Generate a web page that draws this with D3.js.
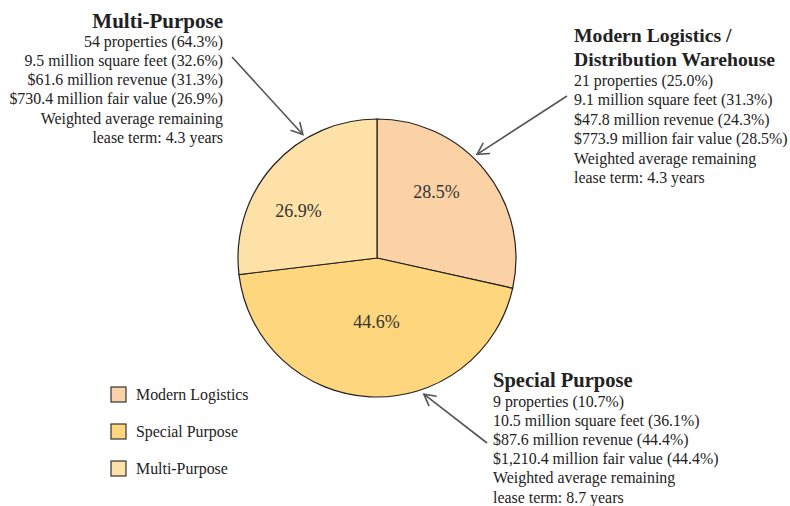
<!DOCTYPE html>
<html><head><meta charset="utf-8">
<script src="https://cdn.jsdelivr.net/npm/d3@7"></script>
<style>body{margin:0;background:#fff}text{font-family:"Liberation Serif","Times New Roman",serif;}</style>
</head><body><svg id="c" width="790" height="506"></svg>
<script>
const categories = ["Modern Logistics", "Special Purpose", "Multi-Purpose"];
const fairValueShare = [28.5, 44.6, 26.9];
const colors = ["#FAD2A6", "#FED67E", "#FEE1A6"];
const titles = [["Modern Logistics /", "Distribution Warehouse"], ["Special Purpose"], ["Multi-Purpose"]];
const details = [
  ["21 properties (25.0%)", "9.1 million square feet (31.3%)", "$47.8 million revenue (24.3%)", "$773.9 million fair value (28.5%)", "Weighted average remaining", "lease term: 4.3 years"],
  ["9 properties (10.7%)", "10.5 million square feet (36.1%)", "$87.6 million revenue (44.4%)", "$1,210.4 million fair value (44.4%)", "Weighted average remaining", "lease term: 8.7 years"],
  ["54 properties (64.3%)", "9.5 million square feet (32.6%)", "$61.6 million revenue (31.3%)", "$730.4 million fair value (26.9%)", "Weighted average remaining", "lease term: 4.3 years"]
];

const svg = d3.select("#c");
const cx = 377, cy = 258, R = 139;
const g = svg.append("g").attr("transform", `translate(${cx},${cy})`);
const pie = d3.pie().sort(null).value(d => d)(fairValueShare);
const arc = d3.arc().innerRadius(0).outerRadius(R);
g.selectAll("path").data(pie).join("path")
  .attr("d", arc).attr("fill", (d, i) => colors[i])
  .attr("stroke", "#222").attr("stroke-width", 1.2);

// percentage labels
const labelArc = d3.arc().innerRadius(0).outerRadius(R * 1.3);
const nudge = [[-11, -10], [4, -26], [-11, 13]];
g.selectAll("text.pct").data(pie).join("text").attr("class", "pct")
  .attr("x", (d, i) => labelArc.centroid(d)[0] + nudge[i][0])
  .attr("y", (d, i) => labelArc.centroid(d)[1] + nudge[i][1])
  .attr("text-anchor", "middle").attr("dominant-baseline", "central")
  .attr("font-size", 18).attr("fill", "#333")
  .text(d => d.data.toFixed(1) + "%");

// annotation blocks
const blocks = [
  {x: 574, ty: 42, by: 85.5, step: 19.5, tsize: 19.7, anchor: "start"},
  {x: 493, ty: 387, by: 407, step: 19.1, tsize: 20.5, anchor: "start"},
  {x: 223, ty: 28, by: 46.5, step: 19.3, tsize: 21, anchor: "end"}
];
blocks.forEach((b, i) => {
  const t = svg.append("g");
  titles[i].forEach((s, k) => {
    t.append("text").attr("x", b.x).attr("y", b.ty + k * 24)
      .attr("text-anchor", b.anchor).attr("font-size", b.tsize).attr("font-weight", "bold")
      .attr("fill", "#222").text(s);
  });
  details[i].forEach((s, k) => {
    t.append("text").attr("x", b.x).attr("y", b.by + k * b.step)
      .attr("text-anchor", b.anchor).attr("font-size", 15.9)
      .attr("fill", "#222").text(s);
  });
});

// arrows (start near text, tip on the pie edge)
const arrows = [
  {from: [567, 96], angleDeg: 44},
  {from: [487, 443], angleDeg: 161},
  {from: [232, 57], angleDeg: 329}
];
const ag = svg.append("g").attr("stroke", "#555").attr("stroke-width", 1.6).attr("fill", "none");
arrows.forEach(a => {
  const th = a.angleDeg * Math.PI / 180;
  const tip = [cx + (R + 5) * Math.sin(th), cy - (R + 5) * Math.cos(th)];
  ag.append("line").attr("x1", a.from[0]).attr("y1", a.from[1]).attr("x2", tip[0]).attr("y2", tip[1]);
  const ang = Math.atan2(tip[1] - a.from[1], tip[0] - a.from[0]);
  const L = 13, spread = 0.5;
  const p1 = [tip[0] - L * Math.cos(ang - spread), tip[1] - L * Math.sin(ang - spread)];
  const p2 = [tip[0] - L * Math.cos(ang + spread), tip[1] - L * Math.sin(ang + spread)];
  ag.append("path").attr("d", `M${p1}L${tip}L${p2}`);
});

// legend
const lg = svg.append("g").attr("transform", "translate(111,387)");
categories.forEach((c, i) => {
  const row = lg.append("g").attr("transform", `translate(0,${i * 37})`);
  row.append("rect").attr("width", 15).attr("height", 15).attr("fill", colors[i])
    .attr("stroke", "#333").attr("stroke-width", 1.2);
  row.append("text").attr("x", 25).attr("y", 13).attr("font-size", 15.9).attr("fill", "#222").text(c);
});
</script></body></html>
